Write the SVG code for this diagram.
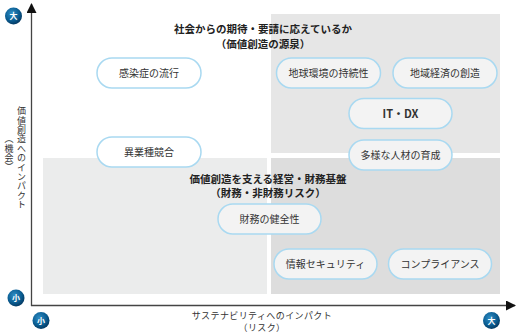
<svg xmlns="http://www.w3.org/2000/svg" width="518" height="333" viewBox="0 0 518 333">
<defs>
<radialGradient id="dot" cx="40%" cy="35%" r="70%">
<stop offset="0" stop-color="#2f8dc4"/>
<stop offset="0.6" stop-color="#0b5e93"/>
<stop offset="1" stop-color="#03335a"/>
</radialGradient>
<marker id="arr" viewBox="0 0 10 10" refX="9" refY="5" markerWidth="10" markerHeight="10" markerUnits="userSpaceOnUse" orient="auto">
<path d="M0,0 L10,5 L0,10 Z" fill="#111"/>
</marker>
<style>
text{font-family:"Noto Sans CJK JP","Noto Sans",sans-serif;fill:#333;}
.pill rect{fill:#f3f3f3;stroke:#a9d9f1;stroke-width:1.5;}
.pill.w rect{fill:#fff;}
.pill text{font-size:10px;text-anchor:middle;}
.ttl{font-size:10.5px;font-weight:bold;text-anchor:middle;fill:#222;}
.ax{font-size:9px;text-anchor:middle;fill:#333;letter-spacing:0.4px;}
.dot circle{fill:url(#dot);}
.dot text{font-size:8px;fill:#fff;text-anchor:middle;font-weight:bold;}
</style>
</defs>
<rect width="518" height="333" fill="#fff"/>
<g id="regions">
<rect x="271" y="14" width="229" height="139" fill="#e6e6e6"/>
<rect x="43" y="158" width="224" height="136" fill="#ebecec"/>
<rect x="271" y="158" width="229" height="136" fill="#dddddd"/>
</g>
<g id="connectors">
<line x1="31.5" y1="306" x2="31.5" y2="4" stroke="#444" stroke-width="1.3" marker-end="url(#arr)"/>
<line x1="31" y1="305.5" x2="515" y2="305.5" stroke="#444" stroke-width="1.3" marker-end="url(#arr)"/>
</g>
<g id="titles">
<text class="ttl" x="263" y="33">社会からの期待・要請に応えているか</text>
<text class="ttl" x="263" y="48">（価値創造の源泉）</text>
<text class="ttl" x="268" y="183">価値創造を支える経営・財務基盤</text>
<text class="ttl" x="268" y="197">（財務・非財務リスク）</text>
</g>
<g id="axis-labels">
<text class="ax" x="262" y="318.5">サステナビリティへのインパクト</text>
<text class="ax" x="262" y="330.5">（リスク）</text>
<text class="ax" x="21.5" y="158" writing-mode="vertical-rl">価値創造へのインパクト</text>
<text class="ax" x="9" y="153" writing-mode="vertical-rl">（機会）</text>
</g>
<g id="dot-y-big" class="dot"><circle cx="13.5" cy="16" r="8.5"/><text x="13.5" y="19">大</text></g>
<g id="dot-y-small" class="dot"><circle cx="16" cy="298" r="8.5"/><text x="16" y="301">小</text></g>
<g id="dot-x-small" class="dot"><circle cx="41" cy="320.5" r="8.5"/><text x="41" y="323.5">小</text></g>
<g id="dot-x-big" class="dot"><circle cx="491.5" cy="320.5" r="8.5"/><text x="491.5" y="323.5">大</text></g>
<g id="n1" class="pill w"><rect x="97" y="58" width="104" height="30" rx="15"/><text x="149" y="77">感染症の流行</text></g>
<g id="n2" class="pill w"><rect x="97" y="137" width="104" height="30" rx="15"/><text x="149" y="156">異業種競合</text></g>
<g id="n3" class="pill"><rect x="276.5" y="58" width="104" height="30" rx="15"/><text x="328.5" y="77">地球環境の持続性</text></g>
<g id="n4" class="pill"><rect x="393" y="58" width="104" height="30" rx="15"/><text x="445" y="77">地域経済の創造</text></g>
<g id="n5" class="pill"><rect x="349" y="98.5" width="103" height="30" rx="15"/><text x="400.5" y="117.5" style="font-size:11px;font-weight:bold">IT・DX</text></g>
<g id="n6" class="pill"><rect x="349" y="140" width="103" height="30" rx="15"/><text x="400.5" y="159">多様な人材の育成</text></g>
<g id="n7" class="pill"><rect x="218" y="204" width="103" height="30" rx="15"/><text x="269.5" y="223">財務の健全性</text></g>
<g id="n8" class="pill"><rect x="274" y="249" width="103" height="30" rx="15"/><text x="325.5" y="268">情報セキュリティ</text></g>
<g id="n9" class="pill"><rect x="388.5" y="249" width="103" height="30" rx="15"/><text x="440" y="268">コンプライアンス</text></g>
</svg>
